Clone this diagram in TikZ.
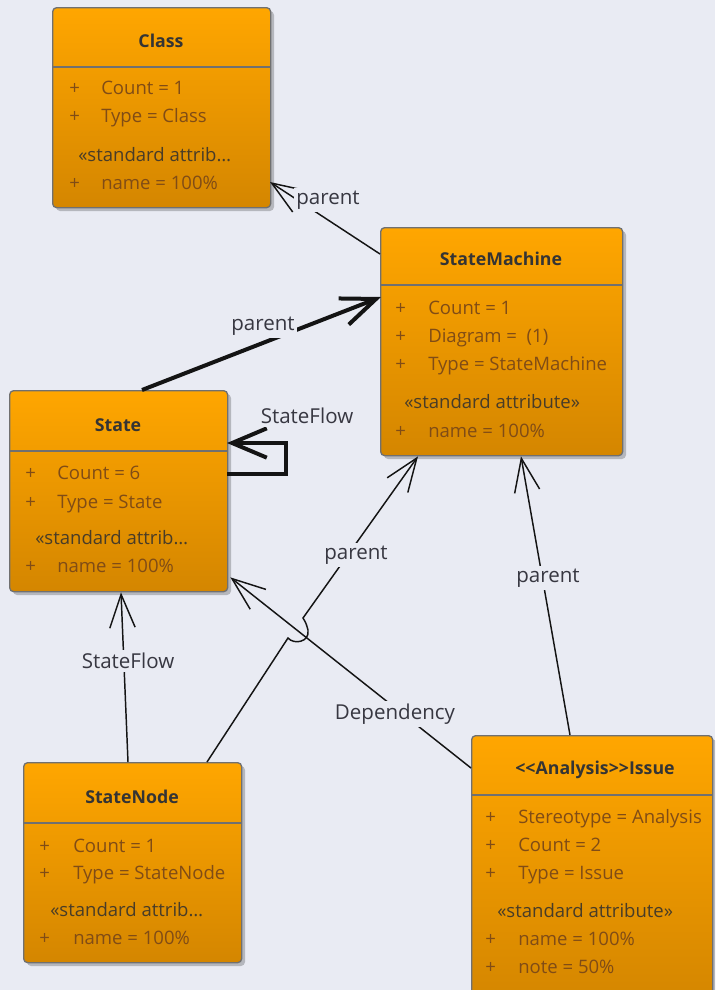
\documentclass[tikz,border=0pt]{standalone}
\usepackage{fontspec}
\setmainfont{Open Sans}
\usetikzlibrary{arrows.meta,shadows,calc}
\definecolor{bg}{RGB}{233,235,243}
\definecolor{orTop}{RGB}{255,166,0}
\definecolor{orBot}{RGB}{212,134,0}
\definecolor{boxline}{RGB}{112,112,112}
\definecolor{attrC}{RGB}{128,76,22}
\definecolor{hdrC}{RGB}{52,52,52}
\definecolor{stC}{RGB}{72,60,40}
\definecolor{lblC}{RGB}{55,55,65}
\definecolor{lineC}{RGB}{20,20,20}
\newcommand\prow[6]{%
  \node[attr,anchor=base west] (#2p) at ($(#1.north west)+(#3,#5+6)$) {+};
  \node[attr,anchor=base west] (#2) at ($(#1.north west)+(#4,#5+6)$) {#6};}
\begin{document}
\begin{tikzpicture}[x=0.75pt,y=-0.75pt,
  umlbox/.style={draw=boxline,line width=1pt,rounded corners=3pt,
    top color=orTop,bottom color=orBot,anchor=north west,inner sep=0pt,
    drop shadow={shadow xshift=2.5pt,shadow yshift=-2.5pt,opacity=0.22,fill=black}},
  divider/.style={draw=boxline,line width=1pt},
  attr/.style={text=attrC,font=\fontsize{13.9pt}{16pt}\selectfont,inner sep=0pt},
  stereo/.style={text=stC,font=\fontsize{13.9pt}{16pt}\selectfont,inner sep=0pt,anchor=base west},
  hdr/.style={text=hdrC,font=\bfseries\fontsize{13.3pt}{16pt}\selectfont,inner sep=0pt,anchor=base},
  lbl/.style={text=lblC,font=\fontsize{15.4pt}{18pt}\selectfont,fill=bg,inner sep=2pt},
  conn/.style={draw=lineC,line width=1.1pt,-{Straight Barb[length=25pt,width=19pt]}},
  thickconn/.style={draw=lineC,line width=3pt,-{Straight Barb[length=26pt,width=21pt]}}]
\useasboundingbox (0,0) rectangle (715,990);
\clip (0,0) rectangle (715,990);
\fill[bg] (0,0) rectangle (715,990);

% ---------- Class ----------
\node[umlbox,minimum width=163.5pt,minimum height=150pt] (cls) at (52,7) {};
\draw[divider] ($(cls.north west)+(0,60)$) -- ($(cls.north east)+(0,60)$);
\node[hdr] (clsH) at ($(cls.north west)+(109,34+6)$) {Class};
\prow{cls}{cls1}{17}{49}{81}{Count = 1}
\prow{cls}{cls2}{17}{49}{109}{Type = Class}
\node[stereo] (clsS) at ($(cls.north west)+(26,148+6)$) {«standard attrib…};
\prow{cls}{cls3}{17}{49}{176}{name = 100\%}

% ---------- StateMachine ----------
\node[umlbox,minimum width=181.5pt,minimum height=171pt] (sm) at (380,227) {};
\draw[divider] ($(sm.north west)+(0,58)$) -- ($(sm.north east)+(0,58)$);
\node[hdr] (smH) at ($(sm.north west)+(121,32+6)$) {StateMachine};
\prow{sm}{sm1}{15}{48}{81}{Count = 1}
\prow{sm}{sm2}{15}{48}{109}{Diagram = \ (1)}
\prow{sm}{sm3}{15}{48}{137}{Type = StateMachine}
\node[stereo] (smS) at ($(sm.north west)+(24,175+6)$) {«standard attribute»};
\prow{sm}{sm4}{15}{48}{204}{name = 100\%}

% ---------- State ----------
\node[umlbox,minimum width=163.5pt,minimum height=150.75pt] (st) at (9,390) {};
\draw[divider] ($(st.north west)+(0,61)$) -- ($(st.north east)+(0,61)$);
\node[hdr] (stH) at ($(st.north west)+(109,35+6)$) {State};
\prow{st}{st1}{16}{48}{83}{Count = 6}
\prow{st}{st2}{16}{48}{112}{Type = State}
\node[stereo] (stS) at ($(st.north west)+(26,148+6)$) {«standard attrib…};
\prow{st}{st3}{16}{48}{176}{name = 100\%}

% ---------- StateNode ----------
\node[umlbox,minimum width=163.5pt,minimum height=150pt] (sn) at (23,762) {};
\draw[divider] ($(sn.north west)+(0,61)$) -- ($(sn.north east)+(0,61)$);
\node[hdr] (snH) at ($(sn.north west)+(109,35+6)$) {StateNode};
\prow{sn}{sn1}{16}{50}{84}{Count = 1}
\prow{sn}{sn2}{16}{50}{111}{Type = StateNode}
\node[stereo] (snS) at ($(sn.north west)+(27,148+6)$) {«standard attrib…};
\prow{sn}{sn3}{16}{50}{176}{name = 100\%}

% ---------- Issue ----------
\node[umlbox,minimum width=180.75pt,minimum height=200pt] (iss) at (471,735) {};
\draw[divider] ($(iss.north west)+(0,60)$) -- ($(iss.north east)+(0,60)$);
\node[hdr] (issH) at ($(iss.north west)+(124,33+6)$) {<{}<Analysis>{}>Issue};
\prow{iss}{iss1}{14}{47}{82}{Stereotype = Analysis}
\prow{iss}{iss2}{14}{47}{110}{Count = 2}
\prow{iss}{iss3}{14}{47}{138}{Type = Issue}
\node[stereo] (issS) at ($(iss.north west)+(26,176+6)$) {«standard attribute»};
\prow{iss}{iss4}{14}{47}{204}{name = 100\%}
\prow{iss}{iss5}{14}{47}{232}{note = 50\%}

% ---------- connector end points ----------
\coordinate (c1s) at ($(sm.north west)+(0,27)$);
\coordinate (c1e) at ($(cls.north west)+(218,175)$);
\coordinate (c2s) at ($(st.north west)+(133,0)$);
\coordinate (c2e) at ($(sm.north west)+(1,70)$);
\coordinate (c3s) at ($(st.north west)+(218,84)$);
\coordinate (c3e) at ($(st.north west)+(218,53)$);
\coordinate (c4s) at ($(sn.north west)+(105,0)$);
\coordinate (c4e) at ($(st.south west)+(112,0)$);
\coordinate (c5s) at ($(sn.north west)+(184,0)$);
\coordinate (c5e) at ($(sm.south west)+(38,0)$);
\coordinate (h1) at (288,638);
\coordinate (h2) at (294,645);
\coordinate (h3) at (310,642);
\coordinate (h4) at (308,630);
\coordinate (h5) at (306,623);
\coordinate (h6) at (303,618);
\coordinate (c6s) at ($(iss.north west)+(99,0)$);
\coordinate (c6e) at ($(sm.south west)+(141,0)$);
\coordinate (c7s) at ($(iss.north west)+(0,33)$);
\coordinate (c7e) at ($(st.south east)+(2,-15)$);

% ---------- connectors ----------
\draw[conn] (c1s) -- (c1e);
\draw[thickconn] (c2s) -- (c2e);
\draw[thickconn,-{Straight Barb[length=26pt,width=22pt]}] (c3s) -- ++(59,0) -- ++(0,-31) -- (c3e);
\draw[conn] (c4s) -- (c4e);
\draw[conn] (c5s) -- (h1) .. controls (h2) and (h3) .. (h4) .. controls (h5) .. (h6) -- (c5e);
\draw[conn] (c6s) -- (c6e);
\draw[conn] (c7s) -- (c7e);

% ---------- labels ----------
\node[lbl] (l1) at (328,200) {parent};
\node[lbl] (l2) at (263,326) {parent};
\node[lbl] (l3) at (307,416) {StateFlow};
\node[lbl] (l4) at (128,661) {StateFlow};
\node[lbl] (l5) at (356,555) {parent};
\node[lbl] (l6) at (548,578) {parent};
\node[lbl] (l7) at (395,714) {Dependency};
\end{tikzpicture}
\end{document}
